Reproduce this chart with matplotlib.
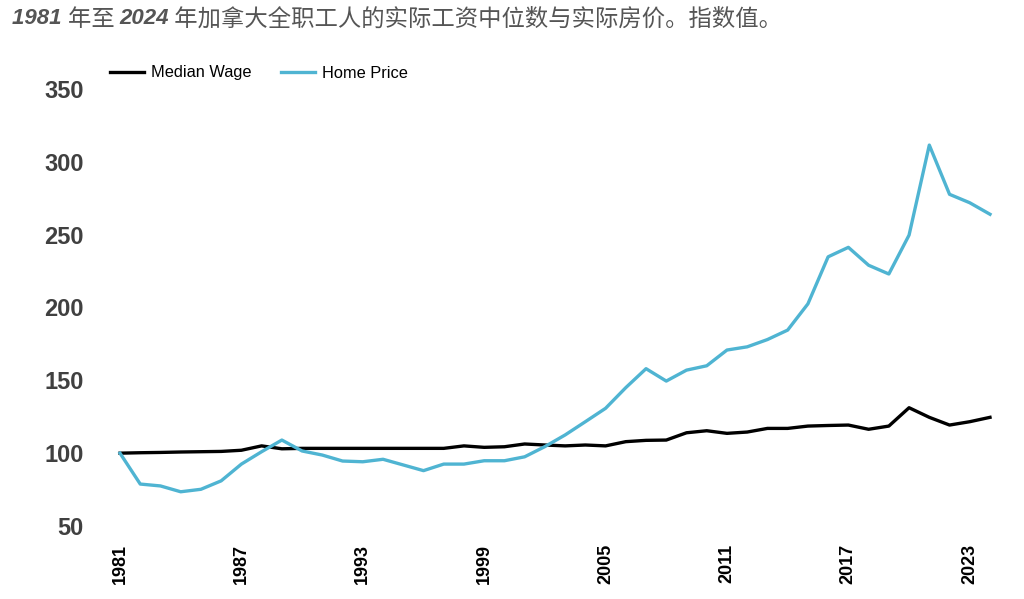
import matplotlib
matplotlib.use("Agg")
import matplotlib.pyplot as plt

# data (index, 1981 = 100)
years = list(range(1981, 2025))
median_wage = [100, 100.3, 100.5, 100.8, 101, 101.2, 102, 105, 103, 103.3,
               103.3, 103.3, 103.3, 103.3, 103.3, 103.3, 103.3, 105, 104, 104.4,
               106.3, 105.6, 105, 105.6, 105, 107.9, 108.8, 109, 114, 115.4,
               113.6, 114.5, 117, 117, 118.6, 119, 119.3, 116.4, 118.6, 131.2,
               124.6, 119.3, 121.6, 124.6]
home_price = [100, 78.8, 77.5, 73.5, 75.2, 81, 92.5, 101, 109, 101.5,
              98.7, 94.6, 94.1, 95.8, 91.9, 88, 92.5, 92.5, 94.8, 94.8,
              97.5, 104.5, 112.5, 121.6, 130.8, 145, 158, 149.5, 157, 160,
              170.8, 173, 178, 184.5, 202.5, 234.8, 241.3, 229, 223, 249.7,
              311.5, 277.7, 271.9, 264]
xticks = [1981, 1987, 1993, 1999, 2005, 2011, 2017, 2023]
yticks = [50, 100, 150, 200, 250, 300, 350]
# title pieces: (text, is_number)
title_parts = [("1981 ", True), ("年至 ", False), ("2024", True),
               (" 年加拿大全职工人的实际工资中位数与实际房价。指数值。", False)]

W, H = 1024, 599
fig = plt.figure(figsize=(W / 100, H / 100), dpi=100)
ax = fig.add_axes([120 / W, (H - 526) / H, 870 / W, 437 / H])

ax.plot(years, median_wage, color="black", lw=2.4, label="Median Wage", clip_on=False)
ax.plot(years, home_price, color="#4fb4d2", lw=2.4, label="Home Price", clip_on=False)

ax.set_xlim(1981, 2024)
ax.set_ylim(50, 350)
ax.set_xticks(xticks)
ax.set_yticks(yticks)
for s in ax.spines.values():
    s.set_visible(False)
ax.tick_params(axis="both", length=0)
ax.tick_params(axis="y", pad=26, labelsize=17, labelcolor="#404040")
ax.tick_params(axis="x", pad=13, labelsize=13, labelrotation=90)
for lab in ax.get_yticklabels() + ax.get_xticklabels():
    lab.set_fontweight("bold")
    lab.set_family("Liberation Sans")

fig.legend(loc="center left", bbox_to_anchor=(95 / W, 1 - 73 / H), ncol=2,
           frameon=False, prop={"family": "Liberation Sans", "size": 11.8},
           handlelength=2.1, columnspacing=1.8, handletextpad=0.4)

# title, drawn piece by piece so the numbers can be bold italic
renderer = fig.canvas.get_renderer()
x = 12 / W
for txt, is_num in title_parts:
    if is_num:
        t = fig.text(x, 1 - 19 / H, txt, ha="left", va="center", fontsize=16,
                     style="italic", fontweight="bold", color="#555555",
                     family="Liberation Sans")
    else:
        t = fig.text(x, 1 - 19 / H, txt, ha="left", va="center", fontsize=16.8,
                     color="#555555", family=["Noto Sans CJK SC", "DejaVu Sans"])
    bb = t.get_window_extent(renderer)
    x = bb.x1 / W

fig.savefig("out.png", dpi=100)
